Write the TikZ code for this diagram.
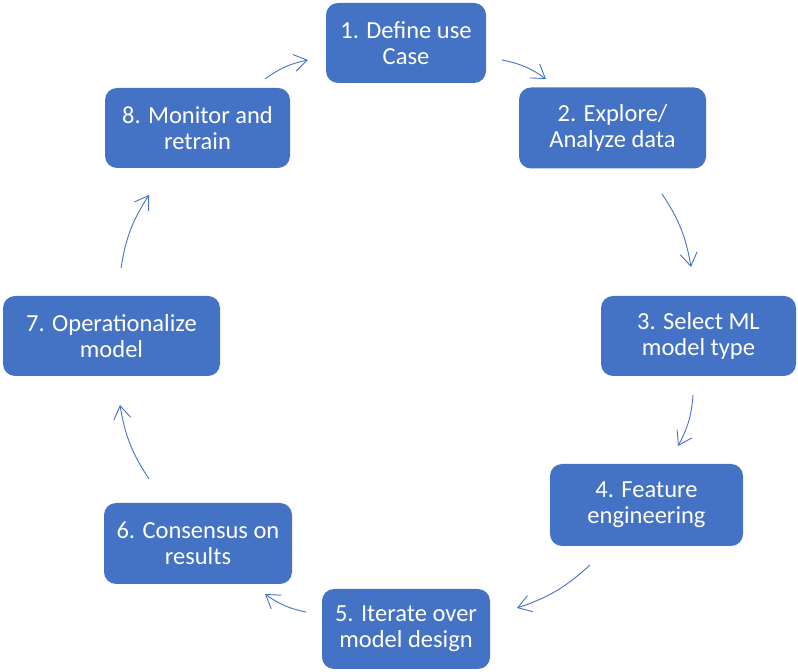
\documentclass[tikz,border=0pt]{standalone}
\usepackage{fontspec}
\setmainfont{Carlito}
\usetikzlibrary{arrows.meta}
\definecolor{boxblue}{HTML}{4472C4}
\tikzset{
  stepbox/.style={fill=boxblue, draw=none, rounded corners=12pt, text=white,
    align=center, font=\fontsize{24.5}{26}\selectfont, inner sep=0pt},
  cyc/.style={draw=boxblue, line width=0.9pt, -{Straight Barb[length=13pt,width=17pt]}, bend left=12}
}
\begin{document}
\begin{tikzpicture}[x=1pt,y=1pt]
\useasboundingbox (0,0) rectangle (798,672);
\node[stepbox, minimum width=160pt, minimum height=80pt] (n1) at (406,629) {1. Define use\\Case};
\node[stepbox, minimum width=187pt, minimum height=81pt] (n2) at (612.5,544) {2. Explore/\\Analyze data};
\node[stepbox, minimum width=195pt, minimum height=80pt] (n3) at (698.5,336) {3. Select ML\\model type};
\node[stepbox, minimum width=193pt, minimum height=82pt] (n4) at (646.5,167) {4. Feature\\engineering};
\node[stepbox, minimum width=168pt, minimum height=80pt] (n5) at (406,43) {5. Iterate over\\model design};
\node[stepbox, minimum width=188pt, minimum height=81pt] (n6) at (198,128.5) {6. Consensus on\\results};
\node[stepbox, minimum width=217pt, minimum height=80pt] (n7) at (111.5,336) {7. Operationalize\\model};
\node[stepbox, minimum width=185pt, minimum height=80pt] (n8) at (197.5,544) {8. Monitor and\\retrain};

\coordinate (a12s) at (502,612); \coordinate (a12e) at (546,593);
\coordinate (a23s) at (662,478); \coordinate (a23e) at (691,405);
\coordinate (a34s) at (693,277); \coordinate (a34e) at (678,226);
\coordinate (a45s) at (590,107); \coordinate (a45e) at (517,64);
\coordinate (a56s) at (306,60);  \coordinate (a56e) at (265,78);
\coordinate (a67s) at (149,193); \coordinate (a67e) at (120,267);
\coordinate (a78s) at (121,404); \coordinate (a78e) at (149,477);
\coordinate (a81s) at (265,593); \coordinate (a81e) at (308,612);

\draw[cyc] (a12s) to (a12e);
\draw[cyc] (a23s) to (a23e);
\draw[cyc] (a34s) to (a34e);
\draw[cyc] (a45s) to (a45e);
\draw[cyc] (a56s) to (a56e);
\draw[cyc] (a67s) to (a67e);
\draw[cyc] (a78s) to (a78e);
\draw[cyc] (a81s) to (a81e);
\end{tikzpicture}
\end{document}
